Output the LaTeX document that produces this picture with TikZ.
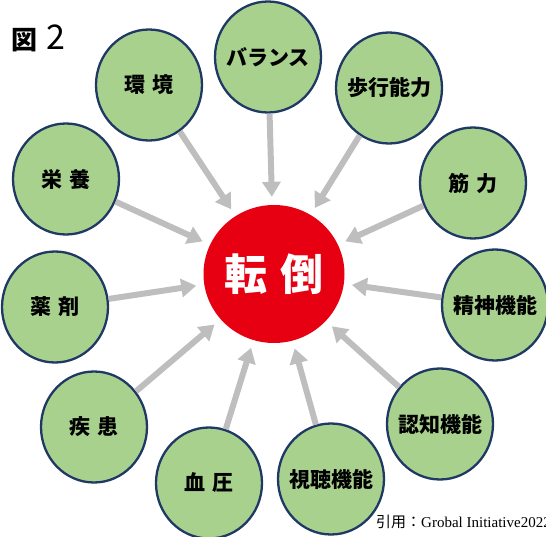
\documentclass[tikz,border=0pt]{standalone}
\usepackage{fontspec}
\newfontfamily\jp{Noto Sans CJK JP}
\newfontfamily\capserif{Liberation Serif}
\usetikzlibrary{arrows.meta,shapes.geometric}
\definecolor{leaf}{HTML}{A9D18E}
\definecolor{rim}{HTML}{1F3864}
\definecolor{fallred}{HTML}{E60012}
\definecolor{arrowgrey}{HTML}{BEBEBE}
\newcommand{\lbl}[1]{\makebox[0pt]{#1}}
\newcommand{\gap}{\hspace{0.35em}}
\begin{document}
\begin{tikzpicture}[x=1pt,y=-1pt,
  factor/.style={ellipse, draw=rim, line width=2.3pt, fill=leaf,
    minimum width=106pt, minimum height=111pt, inner sep=0pt,
    font=\jp\bfseries\fontsize{21}{24}\selectfont},
  fallnode/.style={ellipse, fill=fallred, minimum width=141pt, minimum height=138pt,
    inner sep=0pt, text=white, font=\jp\bfseries\fontsize{43}{48}\selectfont},
  flow/.style={draw=arrowgrey, line width=6pt,
    -{Triangle[length=15pt,width=18pt]}, shorten >=8pt}]
\useasboundingbox (0,0) rectangle (546,537);

\node[fallnode] (fall) at (274,274) {\lbl{転\hspace{0.3em}倒}};

\node[factor] (env)  at (149,85)  {\lbl{環\gap 境}};
\node[factor] (bal)  at (268,57)  {\lbl{バランス}};
\node[factor] (walk) at (389,88)  {\lbl{歩行能力}};
\node[factor] (mus)  at (473,183) {\lbl{筋\gap 力}};
\node[factor] (mind) at (495,305) {\lbl{精神機能}};
\node[factor] (cog)  at (440,424) {\lbl{認知機能}};
\node[factor] (see)  at (331,479) {\lbl{視聴機能}};
\node[factor] (bp)   at (209,483) {\lbl{血\gap 圧}};
\node[factor] (dis)  at (94,427)  {\lbl{疾\gap 患}};
\node[factor] (drug) at (55,307)  {\lbl{薬\gap 剤}};
\node[factor] (nut)  at (66,179)  {\lbl{栄\gap 養}};

\foreach \n in {env,bal,walk,mus,mind,cog,see,bp,dis,drug,nut}
  \draw[flow] (\n) -- (fall);

\node[anchor=base west, inner sep=0pt] (title) at (11,50)
  {\jp{\bfseries\fontsize{26}{30}\selectfont 図}\hspace{9pt}{\fontsize{34}{38}\selectfont 2}};
\node[anchor=base west, inner sep=0pt] (cite) at (376,527)
  {\fontsize{15}{18}\selectfont{\jp 引用：}\capserif Grobal Initiative2022};
\end{tikzpicture}
\end{document}
